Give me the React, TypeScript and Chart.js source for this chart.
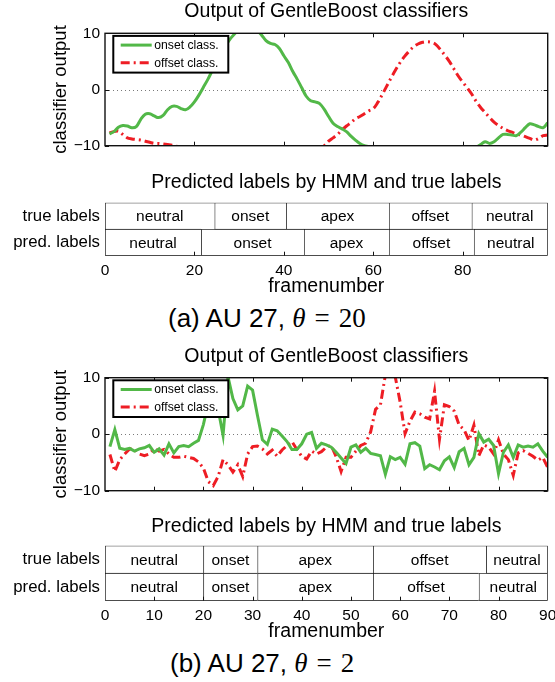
import React, { useEffect, useRef } from 'react';
import { Chart, registerables } from 'chart.js';

Chart.register(...registerables);

const SANS = '"Liberation Sans", Arial, Helvetica, sans-serif';
const SERIF = '"Liberation Serif", "Times New Roman", serif';
const GREEN = '#52b848';
const RED = '#ee1d24';

// ---------------- Panel (a): AU 27, theta = 20 ----------------
const onsetA = [
  -7.9, -7.5, -6.7, -6.4, -6.5, -6.8, -6.6, -5.3, -4.4, -4.3,
  -4.7, -5.0, -4.6, -3.6, -3.0, -3.0, -3.4, -3.6, -3.1, -2.2,
  -1.0, 0.4, 1.8, 3.4, 5.0, 6.5, 7.8, 9.0, 9.9, 10.8,
  11.4, 11.6, 11.3, 10.6, 9.7, 8.7, 8.2, 8.0, 7.3, 6.0,
  4.8, 3.2, 1.8, 0.3, -1.2, -2.0, -2.2, -2.5, -3.5, -4.8,
  -6.0, -6.6, -7.0, -7.5, -8.3, -9.0, -9.6, -10.0, -10.2, -10.5,
  -10.8, -11.0, -11.3, -11.5, -11.7, -11.8, -11.9, -12.0, -12.0, -12.0,
  -11.9, -11.8, -11.7, -11.6, -11.5, -11.4, -11.2, -11.0, -10.9, -10.8,
  -10.7, -10.6, -10.3, -9.8, -9.3, -9.6, -9.3, -8.6, -8.0, -8.0,
  -8.1, -8.2, -7.6, -6.8, -6.1, -6.3, -6.6, -6.8, -5.9,
];
const offsetA = [
  -7.7, -7.5, -7.4, -8.0, -8.6, -8.8, -8.9, -9.0, -9.2, -9.4,
  -9.6, -9.6, -9.7, -9.8, -9.9, -10.1, -10.3, -10.5, -10.8, -11.0,
  -11.3, -11.6, -11.9, -12.2, -12.5, -12.7, -12.9, -13.0, -13.0, -13.0,
  -12.9, -12.8, -12.7, -12.6, -12.5, -12.4, -12.3, -12.2, -12.0, -11.8,
  -11.6, -11.4, -11.2, -11.0, -10.8, -10.6, -10.4, -10.2, -10.0, -9.2,
  -8.6, -8.0, -7.2, -6.5, -5.9, -5.2, -4.8, -4.3, -3.8, -3.4,
  -2.3, -0.9, 0.6, 2.1, 3.5, 4.8, 5.9, 6.8, 7.6, 8.1,
  8.4, 8.5, 8.4, 8.0, 7.1, 6.1, 5.0, 3.7, 2.4, 1.3,
  0.3, -0.8, -2.1, -3.2, -4.1, -5.0, -5.8, -6.4, -6.9, -7.3,
  -7.6, -7.9, -8.1, -8.4, -8.7, -9.0, -8.7, -8.2, -8.1,
];
const framesA = onsetA.map((_, i) => i + 1);
const xMaxA = 99;
const lineXTicksA = [20, 40, 60, 80];
const barXTicksA = [0, 20, 40, 60, 80];
const trueNamesA = ['neutral', 'onset', 'apex', 'offset', 'neutral'];
const trueBoundsA = [0, 24.5, 40.5, 63.5, 82, 99];
const predNamesA = ['neutral', 'onset', 'apex', 'offset', 'neutral'];
const predBoundsA = [0, 21.5, 44.5, 63.5, 82.5, 99];

// ---------------- Panel (b): AU 27, theta = 2 ----------------
const onsetB = [
  -2.2, 0.8, -2.5, -2.7, -2.5, -3.0, -2.6, -2.4, -2.0, -3.2,
  -2.6, -3.7, -1.7, -3.3, -2.2, -2.0, -2.2, -1.6, -1.1, 1.7,
  5.5, 7.6, 4.4, -0.2, 10.2, 6.3, 4.3, 5.0, 8.5, 7.8,
  3.3, -1.0, -1.8, 0.9, 0.6, -0.3, -1.3, -2.7, -2.7, -1.7,
  0.0, 0.3, -2.5, -1.6, -1.9, -2.3, -3.2, -4.2, -5.2, -2.3,
  -1.9, -3.2, -2.5, -3.4, -3.6, -3.8, -7.1, -4.0, -4.5, -4.1,
  -5.3, -1.7, -1.5, -2.1, -6.1, -5.4, -5.8, -6.3, -4.7, -4.0,
  -5.9, -3.1, -2.5, -5.4, -4.1, 0.1, -1.4, -0.9, -2.0, -7.0,
  -3.2, -1.9, -4.1, -1.9, -2.3, -2.1, -2.3, -1.7, -3.0, -4.1,
];
const offsetB = [
  -3.6, -6.6, -4.5, -3.5, -2.6, -2.7, -3.5, -3.8, -3.5, -2.6,
  -3.0, -2.7, -3.5, -4.1, -4.1, -3.9, -4.1, -4.3, -4.9, -6.0,
  -8.4, -9.1, -7.5, -4.5, -5.4, -6.7, -5.4, -7.5, -3.5, -2.2,
  -2.1, -2.6, -3.5, -2.8, -3.9, -2.8, -2.0, -1.3, -2.7, -3.9,
  -4.4, -3.0, -3.5, -3.1, -2.3, -2.0, -4.0, -6.6, -4.1, -4.1,
  -3.0, -2.0, -1.6, 0.4, 4.4, 5.2, 10.5, 11.5, 10.2, 5.7,
  0.1, 2.3, 3.9, 3.6, 3.0, 2.7, 7.6, -0.9, 5.2, 4.9,
  4.1, 1.6, 0.8, -1.1, 1.6, -3.8, -1.9, -2.3, -3.5, -1.0,
  -3.5, -4.5, -7.3, -3.3, -2.9, -3.4, -3.9, -4.6, -4.1, -5.9,
];
const framesB = onsetB.map((_, i) => i + 1);
const xMaxB = 90;
const lineXTicksB = [10, 20, 30, 40, 50, 60, 70, 80];
const barXTicksB = [0, 10, 20, 30, 40, 50, 60, 70, 80, 90];
const trueNamesB = ['neutral', 'onset', 'apex', 'offset', 'neutral'];
const trueBoundsB = [0, 20, 31, 54.5, 77.5, 90];
const predNamesB = ['neutral', 'onset', 'apex', 'offset', 'neutral'];
const predBoundsB = [0, 20, 31, 54.5, 76, 90];

// shared
const yTicks = [-10, 0, 10];
const rowLabels = ['true labels', 'pred. labels'];
const seriesNames = ['onset class.', 'offset class.'];
const lineTitle = 'Output of GentleBoost classifiers';
const barTitle = 'Predicted labels by HMM and true labels';

const fmt = (v: number) => (v < 0 ? '\u2212' + Math.abs(v) : String(v));

function seg(ctx: CanvasRenderingContext2D, x1: number, y1: number, x2: number, y2: number) {
  ctx.beginPath();
  ctx.moveTo(x1, y1);
  ctx.lineTo(x2, y2);
  ctx.stroke();
}

const matlabLinePlugin = {
  id: 'matlabLine',
  beforeDatasetsDraw(chart: any) {
    const { ctx, chartArea: a, scales } = chart;
    const y0 = Math.round(scales.y.getPixelForValue(0)) + 0.5;
    ctx.save();
    ctx.strokeStyle = '#7a7a7a';
    ctx.lineWidth = 1;
    ctx.setLineDash([1, 3]);
    seg(ctx, a.left, y0, a.right, y0);
    ctx.restore();
  },
  afterDraw(chart: any, _a: any, opts: any) {
    const { ctx, chartArea: a, scales } = chart;
    ctx.save();
    ctx.setLineDash([]);
    ctx.strokeStyle = '#111';
    ctx.lineWidth = 1.4;
    ctx.strokeRect(a.left, a.top, a.right - a.left, a.bottom - a.top);
    ctx.lineWidth = 1;
    for (const v of opts.xTicks) {
      const px = Math.round(scales.x.getPixelForValue(v)) + 0.5;
      seg(ctx, px, a.bottom, px, a.bottom - 4);
      seg(ctx, px, a.top, px, a.top + 4);
    }
    for (const v of opts.yTicks) {
      const py = Math.round(scales.y.getPixelForValue(v)) + 0.5;
      seg(ctx, a.left, py, a.left + 4, py);
      seg(ctx, a.right, py, a.right - 4, py);
    }
    // title
    ctx.fillStyle = '#000';
    ctx.font = `19.5px ${SANS}`;
    ctx.textAlign = 'center';
    ctx.textBaseline = 'middle';
    ctx.fillText(opts.title, (a.left + a.right) / 2, opts.titleY);
    // legend box
    const lx = a.left + 8.3;
    const ly = a.top + 2.6;
    const lw = 115;
    const lh = 36.7;
    ctx.fillStyle = '#fff';
    ctx.fillRect(lx, ly, lw, lh);
    ctx.strokeStyle = '#000';
    ctx.lineWidth = 2;
    ctx.strokeRect(lx, ly, lw, lh);
    chart.data.datasets.forEach((ds: any, i: number) => {
      const yy = ly + 9.2 + i * 17.6;
      ctx.strokeStyle = ds.borderColor;
      ctx.lineWidth = 3;
      ctx.setLineDash(ds.borderDash || []);
      seg(ctx, lx + 7.4, yy, lx + 38.4, yy);
      ctx.setLineDash([]);
      ctx.fillStyle = '#000';
      ctx.font = `12.2px ${SANS}`;
      ctx.textAlign = 'left';
      ctx.textBaseline = 'middle';
      ctx.fillText(ds.label, lx + 41, yy + 0.5);
    });
    ctx.restore();
  },
};

const labelBarPlugin = {
  id: 'labelBar',
  afterDatasetsDraw(chart: any, _a: any, opts: any) {
    const { ctx, chartArea: a, scales } = chart;
    ctx.save();
    ctx.fillStyle = '#000';
    ctx.font = `15.5px ${SANS}`;
    ctx.textAlign = 'center';
    ctx.textBaseline = 'middle';
    chart.data.datasets.forEach((_ds: any, d: number) => {
      const meta = chart.getDatasetMeta(d);
      meta.data.forEach((el: any, j: number) => {
        const { x, y, base } = el.getProps(['x', 'y', 'base'], true);
        const name = j === 0 ? opts.trueNames[d] : opts.predNames[d];
        ctx.fillText(name, (x + base) / 2, y + 1);
      });
    });
    ctx.strokeStyle = '#111';
    ctx.lineWidth = 1;
    for (const v of opts.xTicks) {
      if (v <= scales.x.min || v >= scales.x.max) continue;
      const px = Math.round(scales.x.getPixelForValue(v)) + 0.5;
      seg(ctx, px, a.bottom, px, a.bottom - 4);
    }
    ctx.font = `19.5px ${SANS}`;
    ctx.fillText(opts.title, (a.left + a.right) / 2, opts.titleY);
    ctx.restore();
  },
};

type LineProps = {
  top: number; height: number; chartTop: number; chartBottom: number; titleY: number;
  frames: number[]; onset: number[]; offset: number[]; xMax: number; xTicks: number[]; tension: number;
};

function LineChart(p: LineProps) {
  const ref = useRef<HTMLCanvasElement>(null);
  useEffect(() => {
    const chart = new Chart(ref.current as HTMLCanvasElement, {
      type: 'line',
      data: {
        datasets: [
          {
            label: seriesNames[0],
            data: p.frames.map((f, i) => ({ x: f, y: p.onset[i] })),
            borderColor: GREEN,
            borderWidth: 3,
            pointRadius: 0,
            tension: p.tension,
            fill: false,
            clip: 0,
          },
          {
            label: seriesNames[1],
            data: p.frames.map((f, i) => ({ x: f, y: p.offset[i] })),
            borderColor: RED,
            borderWidth: 3,
            borderDash: [9, 4, 2, 4],
            pointRadius: 0,
            tension: p.tension,
            fill: false,
            clip: 0,
          },
        ],
      } as any,
      options: {
        responsive: false,
        animation: false,
        devicePixelRatio: 1,
        layout: { autoPadding: false, padding: { top: p.chartTop, right: 7.3, bottom: p.height - p.chartBottom, left: 0 } },
        plugins: {
          legend: { display: false },
          tooltip: { enabled: false },
          matlabLine: { xTicks: p.xTicks, yTicks, title: lineTitle, titleY: p.titleY },
        } as any,
        scales: {
          x: { type: 'linear', display: false, min: 0, max: p.xMax },
          y: {
            type: 'linear',
            min: -10,
            max: 10,
            grid: { display: false, drawTicks: false },
            border: { display: false },
            afterBuildTicks: (s: any) => { s.ticks = yTicks.map((v) => ({ value: v })); },
            afterFit: (s: any) => { s.width = 105; },
            ticks: { font: { family: SANS, size: 15.5 }, color: '#000', padding: 5, callback: (v: any) => fmt(Number(v)) },
            title: {
              display: true,
              text: 'classifier output',
              color: '#000',
              font: { family: SANS, size: 18.5 },
              padding: { top: 50, bottom: 0 },
            },
          },
        } as any,
      },
      plugins: [matlabLinePlugin],
    });
    return () => chart.destroy();
  }, []);
  return (
    <canvas ref={ref} width={555} height={p.height}
      style={{ position: 'absolute', left: 0, top: p.top, width: 555, height: p.height }} />
  );
}

type BarProps = {
  top: number; height: number; chartTop: number; chartBottom: number; titleY: number; tickPad: number; xTitlePad: number;
  xMax: number; xTicks: number[]; trueNames: string[]; trueBounds: number[]; predNames: string[]; predBounds: number[];
};

function LabelBar(p: BarProps) {
  const ref = useRef<HTMLCanvasElement>(null);
  useEffect(() => {
    const n = p.trueNames.length;
    const datasets = p.trueNames.map((_, i) => ({
      label: 'segment ' + (i + 1),
      data: [
        [p.trueBounds[i], p.trueBounds[i + 1]],
        [p.predBounds[i], p.predBounds[i + 1]],
      ],
      backgroundColor: '#fff',
      borderColor: '#111',
      borderSkipped: false,
      borderWidth: (c: any) => ({
        left: 1,
        right: i === n - 1 ? 1 : 0,
        top: 1,
        bottom: c.dataIndex === 1 ? 1 : 0,
      }),
      barPercentage: 1,
      categoryPercentage: 1,
      grouped: false,
    }));
    const chart = new Chart(ref.current as HTMLCanvasElement, {
      type: 'bar',
      data: { labels: rowLabels, datasets } as any,
      options: {
        indexAxis: 'y',
        responsive: false,
        animation: false,
        devicePixelRatio: 1,
        layout: { autoPadding: false, padding: { top: p.chartTop, right: 7.3, bottom: 0, left: 0 } },
        plugins: {
          legend: { display: false },
          tooltip: { enabled: false },
          labelBar: { trueNames: p.trueNames, predNames: p.predNames, xTicks: p.xTicks, title: barTitle, titleY: p.titleY },
        } as any,
        scales: {
          x: {
            type: 'linear',
            position: 'bottom',
            min: 0,
            max: p.xMax,
            grid: { display: false, drawTicks: false },
            border: { display: false },
            afterBuildTicks: (s: any) => { s.ticks = p.xTicks.map((v) => ({ value: v })); },
            afterFit: (s: any) => { s.height = p.height - p.chartBottom; s.paddingLeft = 0; s.paddingRight = 0; },
            ticks: { font: { family: SANS, size: 15.5 }, color: '#000', padding: p.tickPad, maxRotation: 0 },
            title: {
              display: true,
              text: 'framenumber',
              color: '#000',
              font: { family: SANS, size: 19.5, lineHeight: 1 },
              padding: { top: 0, bottom: p.xTitlePad },
            },
          },
          y: {
            type: 'category',
            grid: { display: false, drawTicks: false },
            border: { display: false },
            afterFit: (s: any) => { s.width = 105; },
            ticks: { font: { family: SANS, size: 16.8 }, color: '#000', padding: 5 },
          },
        } as any,
      },
      plugins: [labelBarPlugin],
    });
    return () => chart.destroy();
  }, []);
  return (
    <canvas ref={ref} width={555} height={p.height}
      style={{ position: 'absolute', left: 0, top: p.top, width: 555, height: p.height }} />
  );
}

function Caption({ top, left, tag, theta }: { top: number; left: number; tag: string; theta: string }) {
  return (
    <div style={{ position: 'absolute', top, left, whiteSpace: 'nowrap', fontSize: 26, lineHeight: '30px', color: '#000' }}>
      <span style={{ fontFamily: SANS }}>{`(${tag}) AU 27, `}</span>
      <span style={{ fontFamily: SERIF, fontStyle: 'italic', fontSize: 27 }}>θ</span>
      <span style={{ fontFamily: SERIF, fontSize: 27, marginLeft: 9, marginRight: 9 }}>=</span>
      <span style={{ fontFamily: SERIF, fontSize: 27 }}>{theta}</span>
    </div>
  );
}

export default function App() {
  return (
    <div style={{ position: 'fixed', left: 0, top: 0, width: 555, height: 682, background: '#fff', overflow: 'hidden' }}>
      <LineChart top={0} height={160} chartTop={33.3} chartBottom={156.7} titleY={12}
        frames={framesA} onset={onsetA} offset={offsetA} xMax={xMaxA} xTicks={lineXTicksA} tension={0.35} />
      <LabelBar top={165} height={135} chartTop={37.7} chartBottom={90.7} titleY={18} tickPad={6} xTitlePad={3.5}
        xMax={xMaxA} xTicks={barXTicksA} trueNames={trueNamesA} trueBounds={trueBoundsA}
        predNames={predNamesA} predBounds={predBoundsA} />
      <Caption top={303} left={168} tag="a" theta="20" />
      <LineChart top={340} height={165} chartTop={37.7} chartBottom={161} titleY={17}
        frames={framesB} onset={onsetB} offset={offsetB} xMax={xMaxB} xTicks={lineXTicksB} tension={0} />
      <LabelBar top={510} height={135} chartTop={35.7} chartBottom={90.7} titleY={17} tickPad={5.5} xTitlePad={3.2}
        xMax={xMaxB} xTicks={barXTicksB} trueNames={trueNamesB} trueBounds={trueBoundsB}
        predNames={predNamesB} predBounds={predBoundsB} />
      <Caption top={648} left={170} tag="b" theta="2" />
    </div>
  );
}
